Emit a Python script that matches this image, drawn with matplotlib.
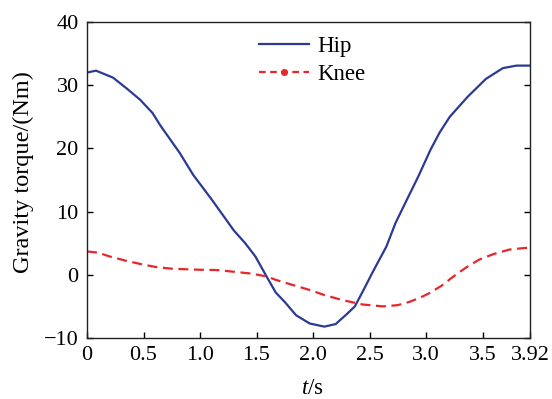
import matplotlib
matplotlib.use("Agg")
import matplotlib.pyplot as plt
from matplotlib.lines import Line2D
import numpy as np

hip_t = [0.0, 0.08, 0.23, 0.35, 0.47, 0.58, 0.65, 0.82, 0.94, 1.10, 1.18, 1.30, 1.40, 1.49,
         1.59, 1.67, 1.75, 1.85, 1.97, 2.10, 2.20, 2.30, 2.37, 2.45, 2.53, 2.65, 2.73,
         2.82, 2.93, 3.04, 3.12, 3.21, 3.37, 3.53, 3.68, 3.80, 3.92]
hip_v = [32.0, 32.3, 31.2, 29.5, 27.7, 25.6, 23.6, 19.3, 15.8, 12.0, 10.0, 7.0, 5.0, 2.9,
         -0.3, -2.8, -4.3, -6.4, -7.7, -8.2, -7.8, -6.2, -5.0, -2.3, 0.5, 4.5, 8.2,
         11.5, 15.5, 19.8, 22.5, 25.0, 28.2, 31.0, 32.7, 33.1, 33.1]

knee_t = [0.0, 0.1, 0.2, 0.35, 0.5, 0.62, 0.76, 1.0, 1.15, 1.29, 1.45, 1.59, 1.67, 1.80,
          1.97, 2.1, 2.26, 2.44, 2.62, 2.75, 2.85, 2.95, 3.03, 3.14, 3.24, 3.35, 3.47,
          3.6, 3.74, 3.85, 3.92]
knee_v = [3.7, 3.5, 2.9, 2.2, 1.6, 1.2, 0.95, 0.8, 0.75, 0.5, 0.2, -0.26, -0.8, -1.5,
          -2.4, -3.2, -4.0, -4.7, -5.0, -4.8, -4.3, -3.6, -2.9, -1.7, -0.3, 1.1, 2.4,
          3.3, 4.0, 4.2, 4.3]

xticks = [0, 0.5, 1.0, 1.5, 2.0, 2.5, 3.0, 3.5, 3.92]
xticklabels = ["0", "0.5", "1.0", "1.5", "2.0", "2.5", "3.0", "3.5", "3.92"]
yticks = [-10, 0, 10, 20, 30, 40]
labels = ["Hip", "Knee"]

plt.rcParams['font.family'] = ['Liberation Serif', 'DejaVu Serif']
plt.rcParams['mathtext.fontset'] = 'custom'
plt.rcParams['mathtext.it'] = 'Liberation Serif:italic'
plt.rcParams['mathtext.rm'] = 'Liberation Serif'

blue = '#2B3A94'
red = '#E8262A'
fs = 16

fig = plt.figure(figsize=(5.52, 3.99), dpi=100)
ax = fig.add_axes([87/552, 61/399, 443/552, 316/399])
ax.plot(hip_t, hip_v, color=blue, lw=1.6, solid_joinstyle='round')
ax.plot(knee_t, knee_v, color=red, lw=1.6, ls=(0, (4.5, 2.5)))

ax.set_xlim(0, 3.92)
ax.set_ylim(-10, 40)
ax.set_xticks(xticks)
ax.set_xticklabels(xticklabels)
ax.set_yticks(yticks)
ax.tick_params(direction='in', length=4, width=1, labelsize=fs, pad=6,
               right=True, top=False)
for s in ax.spines.values():
    s.set_linewidth(1.0)
    s.set_color('#222222')

ax.set_ylabel("Gravity torque/(Nm)", fontsize=17.5)
ax.yaxis.set_label_coords(-0.12, 0.525)
ax.set_xlabel(r"$t$/s", fontsize=16.5)
ax.xaxis.set_label_coords(0.508, -0.125)

handles = [Line2D([], [], color=blue, lw=1.6),
           Line2D([], [], color=red, lw=1.6, ls=(0, (3, 2)), marker='o', markersize=4)]
ax.legend(handles, labels, loc='upper left', bbox_to_anchor=((259-87)/443, 0.955),
          frameon=False, fontsize=16.5, borderaxespad=0, borderpad=0,
          handlelength=2.2, handletextpad=0.35, labelspacing=0.3)

fig.savefig("out.png", dpi=100)
